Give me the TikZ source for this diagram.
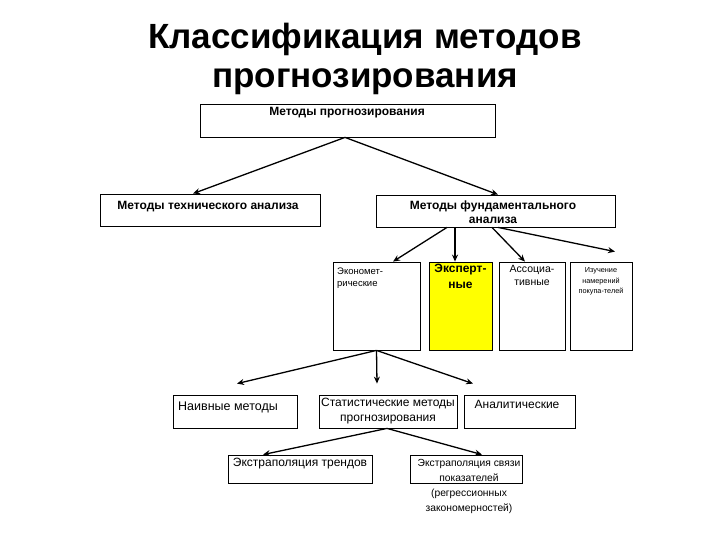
\documentclass[tikz,border=0pt]{standalone}
\usepackage{fontspec}
\setmainfont{Liberation Sans}
\usetikzlibrary{arrows.meta,positioning}
\definecolor{hiyellow}{HTML}{FFFF00}
\tikzset{
  box/.style={draw=black, fill=white, line width=0.8pt, inner sep=0pt},
  flow/.style={-{Stealth[length=7pt,width=6pt]}, line width=1.3pt, black},
  txt/.style={font=\fontsize{12}{15}\selectfont, align=center, inner sep=0pt},
  bold/.style={font=\fontsize{12}{14}\selectfont\bfseries, align=center, inner sep=0pt},
  tiny/.style={font=\fontsize{7.3}{10.5}\selectfont, align=center, inner sep=0pt},
}

\begin{document}
\begin{tikzpicture}[x=1pt, y=-1pt]
  \useasboundingbox (0,0) rectangle (720,540);
  \node[font=\fontsize{35}{39}\selectfont\bfseries, align=center] (title) at (365,59)
    {Классификация методов\\прогнозирования};

  % levels 1-2
  \node[box, minimum width=295pt, minimum height=33pt] (top) at (347.5,120.5) {};
  \node[bold] (toptxt) at (347,113) {Методы прогнозирования};
  \node[box, minimum width=220pt, minimum height=32pt] (tech) at (210,210) {};
  \node[bold] (techtxt) at (208,207) {Методы технического анализа};
  \node[box, minimum width=239pt, minimum height=32pt] (fund) at (495.5,211) {};
  \node[bold] (fundtxt) at (493,212) {Методы фундаментального\\анализа};
  \draw[flow] ([xshift=-2.5pt]top.south) -- ([xshift=-17pt]tech.north);
  \draw[flow] ([xshift=-2.5pt]top.south) -- ([xshift=2.5pt]fund.north);

  % kinds of fundamental analysis
  \foreach \n/\x/\w/\c in {econ/376.5/87/white, expert/460.5/63/hiyellow,
                           assoc/532/66/white, study/601/62/white}
    { \node[box, fill=\c, minimum width=\w pt, minimum height=88pt] (\n) at (\x,306) {}; }
  \node[txt, font=\fontsize{9.5}{11.5}\selectfont, align=left, anchor=north west] (econtxt) at (337,268)
    {Экономет-\\рические};
  \node[bold, font=\fontsize{12}{16}\selectfont\bfseries] (experttxt) at (460.5,276) {Эксперт-\\ные};
  \node[txt, font=\fontsize{10.5}{13}\selectfont] (assoctxt) at (532,275) {Ассоциа-\\тивные};
  \node[tiny] (studytxt) at (601,281.5) {Изучение\\намерений\\покупа-телей};
  \draw[flow] ([xshift=-48.5pt]fund.south) -- ([xshift=16.5pt]econ.north);
  \draw[flow] ([xshift=-40.5pt]fund.south) -- ([xshift=-5.5pt]expert.north);
  \draw[flow] ([xshift=-3.5pt]fund.south) -- ([xshift=-7pt]assoc.north);
  \draw[flow] ([xshift=2.5pt]fund.south) -- ([shift={(14pt,10pt)}]study.north);

  % level 3
  \node[box, minimum width=124pt, minimum height=33pt] (naive) at (235,411.5) {};
  \node[txt, font=\fontsize{12.5}{15}\selectfont] (naivetxt) at (228,407) {Наивные методы};
  \node[box, minimum width=138pt, minimum height=33pt] (stat) at (388,411.5) {};
  \node[txt, font=\fontsize{12}{14.5}\selectfont] (stattxt) at (388,411) {Статистические методы\\прогнозирования};
  \node[box, minimum width=111pt, minimum height=33pt] (anal) at (519.5,411.5) {};
  \node[txt] (analtxt) at (517,404) {Аналитические};
  \draw[flow] (econ.south) -- ([shift={(2pt,11pt)}]naive.north);
  \draw[flow] (econ.south) -- ([shift={(-11pt,11pt)}]stat.north);
  \draw[flow] (econ.south) -- ([shift={(-46.5pt,11pt)}]anal.north);

  % level 4
  \node[box, minimum width=144pt, minimum height=28pt] (trend) at (300,469) {};
  \node[txt] (trendtxt) at (300,464) {Экстраполяция трендов};
  \node[box, minimum width=112pt, minimum height=28pt] (link) at (466,469) {};
  \node[txt, font=\fontsize{10.3}{15.3}\selectfont] (linktxt) at (469,486.5)
    {Экстраполяция связи\\показателей\\(регрессионных\\закономерностей)};
  \draw[flow] ([xshift=-1pt]stat.south) -- ([xshift=-37pt]trend.north);
  \draw[flow] ([xshift=-1pt]stat.south) -- ([xshift=16pt]link.north);
\end{tikzpicture}
\end{document}
